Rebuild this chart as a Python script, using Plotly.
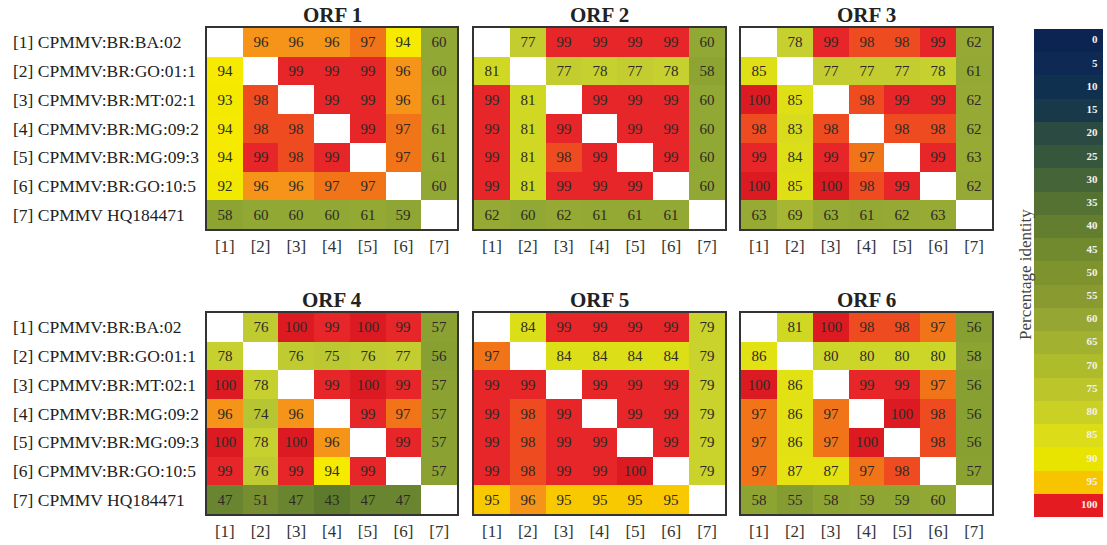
import plotly.graph_objects as go

W, H = 1107, 545
N = None

strains = ["[1] CPMMV:BR:BA:02", "[2] CPMMV:BR:GO:01:1", "[3] CPMMV:BR:MT:02:1",
           "[4] CPMMV:BR:MG:09:2", "[5] CPMMV:BR:MG:09:3", "[6] CPMMV:BR:GO:10:5",
           "[7] CPMMV HQ184471"]
col_labels = ["[1]", "[2]", "[3]", "[4]", "[5]", "[6]", "[7]"]
titles = ["ORF 1", "ORF 2", "ORF 3", "ORF 4", "ORF 5", "ORF 6"]

orf1 = [[N, 96, 96, 96, 97, 94, 60],
        [94, N, 99, 99, 99, 96, 60],
        [93, 98, N, 99, 99, 96, 61],
        [94, 98, 98, N, 99, 97, 61],
        [94, 99, 98, 99, N, 97, 61],
        [92, 96, 96, 97, 97, N, 60],
        [58, 60, 60, 60, 61, 59, N]]
orf2 = [[N, 77, 99, 99, 99, 99, 60],
        [81, N, 77, 78, 77, 78, 58],
        [99, 81, N, 99, 99, 99, 60],
        [99, 81, 99, N, 99, 99, 60],
        [99, 81, 98, 99, N, 99, 60],
        [99, 81, 99, 99, 99, N, 60],
        [62, 60, 62, 61, 61, 61, N]]
orf3 = [[N, 78, 99, 98, 98, 99, 62],
        [85, N, 77, 77, 77, 78, 61],
        [100, 85, N, 98, 99, 99, 62],
        [98, 83, 98, N, 98, 98, 62],
        [99, 84, 99, 97, N, 99, 63],
        [100, 85, 100, 98, 99, N, 62],
        [63, 69, 63, 61, 62, 63, N]]
orf4 = [[N, 76, 100, 99, 100, 99, 57],
        [78, N, 76, 75, 76, 77, 56],
        [100, 78, N, 99, 100, 99, 57],
        [96, 74, 96, N, 99, 97, 57],
        [100, 78, 100, 96, N, 99, 57],
        [99, 76, 99, 94, 99, N, 57],
        [47, 51, 47, 43, 47, 47, N]]
orf5 = [[N, 84, 99, 99, 99, 99, 79],
        [97, N, 84, 84, 84, 84, 79],
        [99, 99, N, 99, 99, 99, 79],
        [99, 98, 99, N, 99, 99, 79],
        [99, 98, 99, 99, N, 99, 79],
        [99, 98, 99, 99, 100, N, 79],
        [95, 96, 95, 95, 95, 95, N]]
orf6 = [[N, 81, 100, 98, 98, 97, 56],
        [86, N, 80, 80, 80, 80, 58],
        [100, 86, N, 99, 99, 97, 56],
        [97, 86, 97, N, 100, 98, 56],
        [97, 86, 97, 100, N, 98, 56],
        [97, 87, 87, 97, 98, N, 57],
        [58, 55, 58, 59, 59, 60, N]]
matrices = [orf1, orf2, orf3, orf4, orf5, orf6]

# colour bar bands
band_values = list(range(0, 101, 5))
band_colors = ["#0b2452", "#0e2a54", "#10304f", "#17394a", "#2a4a42", "#36573c",
               "#456438", "#567232", "#647e30", "#728a2e", "#7e922e", "#889a30",
               "#96a632", "#a2b230", "#aebc2c", "#bcc62a", "#cad024", "#dcdc18",
               "#e8e400", "#f8c400", "#e41c22"]

# continuous scale used in the matrices
cell_stops = [(40, "#5a742c"), (43, "#5e7a2c"), (47, "#6a8530"), (51, "#768e30"),
              (56, "#88a032"), (60, "#92a834"), (63, "#96aa34"), (69, "#a6b632"),
              (75, "#bcc832"), (78, "#c6d02e"), (80, "#ccd628"), (84, "#dcde18"),
              (87, "#e4e210"), (90, "#eee800"), (94, "#f6ea00"), (95, "#f8c800"),
              (96, "#f59418"), (97, "#f27418"), (98, "#ee4c20"), (99, "#e62628"),
              (100, "#dc1a22")]
ZMIN, ZMAX = 40, 100
cell_scale = [[(v - ZMIN) / (ZMAX - ZMIN), c] for v, c in cell_stops]

SERIF = "Liberation Serif"

# panel pixel boxes
col_px = [(207, 457), (474, 725), (741, 992)]
row_px = [(28, 229), (313, 514)]


def xd(a, b):
    return [a / W, b / W]


def yd(a, b):
    return [1 - b / H, 1 - a / H]


fig = go.Figure()
layout = {}
annotations = []
for i, m in enumerate(matrices):
    r, c = divmod(i, 3)
    n = i + 1
    xa = "x" if n == 1 else f"x{n}"
    ya = "y" if n == 1 else f"y{n}"
    txt = [["" if v is None else str(v) for v in row] for row in m]
    fig.add_trace(go.Heatmap(
        z=m, x=list(range(7)), y=list(range(7)), text=txt, texttemplate="%{text}",
        textfont=dict(family=SERIF, size=15, color="#2e2a26"),
        colorscale=cell_scale, zmin=ZMIN, zmax=ZMAX, showscale=False,
        xaxis=xa, yaxis=ya, hoverinfo="skip"))
    axkey_x = "xaxis" if n == 1 else f"xaxis{n}"
    axkey_y = "yaxis" if n == 1 else f"yaxis{n}"
    layout[axkey_x] = dict(domain=xd(*col_px[c]), anchor=ya, range=[-0.5, 6.5],
                           tickvals=list(range(7)), ticktext=col_labels, ticks="",
                           tickfont=dict(family=SERIF, size=17, color="#333"),
                           ticklabelstandoff=1,
                           showline=True, mirror=True, linecolor="#333", linewidth=1.5,
                           showgrid=False, zeroline=False, fixedrange=True)
    layout[axkey_y] = dict(domain=yd(*row_px[r]), anchor=xa, range=[6.5, -0.5],
                           showticklabels=False, ticks="",
                           showline=True, mirror=True, linecolor="#333", linewidth=1.5,
                           showgrid=False, zeroline=False, fixedrange=True)
    x0, x1 = col_px[c]
    annotations.append(dict(text="<b>" + titles[i] + "</b>", xref="paper", yref="paper",
                            x=(x0 + x1) / 2 / W, y=1 - (row_px[r][0] + 1) / H,
                            xanchor="center", yanchor="bottom", showarrow=False,
                            font=dict(family=SERIF, size=21, color="#222")))
    if c == 0:
        for k, s in enumerate(strains):
            annotations.append(dict(text=s, xref="paper", yref=ya, x=11 / W, y=k,
                                    xanchor="left", yanchor="middle", showarrow=False,
                                    font=dict(family=SERIF, size=17.5, color="#222")))

# colour bar as its own heatmap
nb = len(band_values)
cb_scale = []
for k, col in enumerate(band_colors):
    cb_scale.append([k / nb, col])
    cb_scale.append([(k + 1) / nb, col])
fig.add_trace(go.Heatmap(z=[[v] for v in band_values], x=[0], y=band_values,
                         colorscale=cb_scale, zmin=-2.5, zmax=102.5, showscale=False,
                         xaxis="x7", yaxis="y7", hoverinfo="skip"))
fig.add_trace(go.Scatter(x=[0.42] * nb, y=band_values, mode="text",
                         text=["<b>%d</b>" % v for v in band_values],
                         textposition="middle left",
                         textfont=dict(family=SERIF, size=11, color="#f2f2f2"),
                         xaxis="x7", yaxis="y7", hoverinfo="skip", showlegend=False))
layout["xaxis7"] = dict(domain=xd(1034, 1103), anchor="y7", range=[-0.5, 0.5],
                        visible=False, fixedrange=True)
layout["yaxis7"] = dict(domain=yd(29, 517), anchor="x7", range=[102.5, -2.5],
                        visible=False, fixedrange=True)
annotations.append(dict(text="Percentage identity", xref="paper", yref="paper",
                        x=1025 / W, y=1 - 275 / H, textangle=-90, showarrow=False,
                        xanchor="center", yanchor="middle",
                        font=dict(family=SERIF, size=17, color="#444")))

fig.update_layout(width=W, height=H, margin=dict(l=0, r=0, t=0, b=0),
                  paper_bgcolor="white", plot_bgcolor="white", showlegend=False,
                  annotations=annotations, **layout)
fig.write_html("out.html", config={"displayModeBar": False},
               post_script="document.body.style.margin='0';document.body.style.overflow='hidden';")
